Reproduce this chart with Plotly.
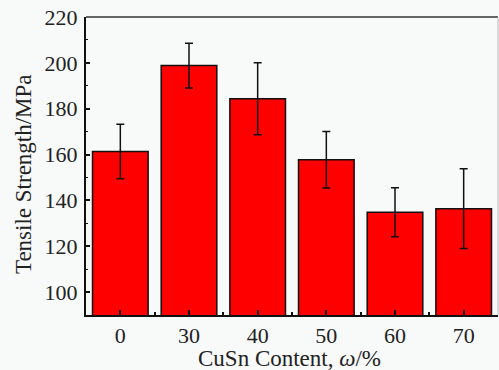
import plotly.graph_objects as go

categories = ["0", "30", "40", "50", "60", "70"]
strength = [161.3, 198.8, 184.3, 157.7, 134.8, 136.4]
error = [11.9, 9.8, 15.7, 12.3, 10.7, 17.4]
y_ticks = [100, 120, 140, 160, 180, 200, 220]

xpos = list(range(len(categories)))
font = "Liberation Serif, Times New Roman, serif"
bg = "#f8f9f9"

fig = go.Figure()
fig.add_trace(go.Bar(
    x=xpos, y=strength, width=0.81,
    marker=dict(color="#ff0000", line=dict(color="#111111", width=1.5)),
    error_y=dict(type="data", array=error, visible=True, color="#111111",
                 thickness=1.5, width=4),
))

fig.update_layout(
    width=499, height=370,
    margin=dict(l=86, r=1, t=17, b=55),
    paper_bgcolor=bg, plot_bgcolor=bg,
    font=dict(family=font, size=22, color="#222222"),
    showlegend=False,
    shapes=[
        dict(type="line", xref="paper", yref="paper", x0=0, x1=1, y0=1, y1=1,
             line=dict(color="#333333", width=1.5)),
        dict(type="line", xref="paper", yref="paper", x0=1, x1=1, y0=0, y1=1,
             line=dict(color="#bbbbbb", width=1)),
    ],
    annotations=[
        dict(text="CuSn Content, <i>ω</i>/%", xref="paper", yref="paper",
             x=0.493, y=0, yshift=-43, xanchor="center", yanchor="middle",
             showarrow=False, font=dict(size=23)),
        dict(text="Tensile Strength/MPa", xref="paper", yref="paper",
             x=0, xshift=-63, y=0.473, xanchor="center", yanchor="middle",
             textangle=-90, showarrow=False, font=dict(size=23)),
    ],
)
fig.update_xaxes(
    range=[-0.5, 5.5], tickvals=xpos, ticktext=categories,
    showline=True, linecolor="#111111", linewidth=2,
    ticks="inside", ticklen=5, tickwidth=1.5, tickcolor="#111111",
    minor=dict(tick0=0.5, dtick=1, ticks="inside", ticklen=3, tickwidth=1.5, tickcolor="#111111"),
    showgrid=False, zeroline=False, automargin=False,
    ticklabelstandoff=0,
    tickfont=dict(size=22),
)
fig.update_yaxes(
    range=[90, 220], tickvals=y_ticks,
    showline=True, linecolor="#111111", linewidth=2,
    ticks="inside", ticklen=4, tickwidth=1.5, tickcolor="#111111",
    minor=dict(dtick=10, tick0=0, ticks="inside", ticklen=2, tickwidth=1, tickcolor="#111111"),
    showgrid=False, zeroline=False, automargin=False,
    ticklabelstandoff=2,
    tickfont=dict(size=22),
)

fig.write_html(
    "out.html",
    config={"displayModeBar": False},
    post_script="document.body.style.margin='0';document.body.style.background='#f8f9f9';",
)
